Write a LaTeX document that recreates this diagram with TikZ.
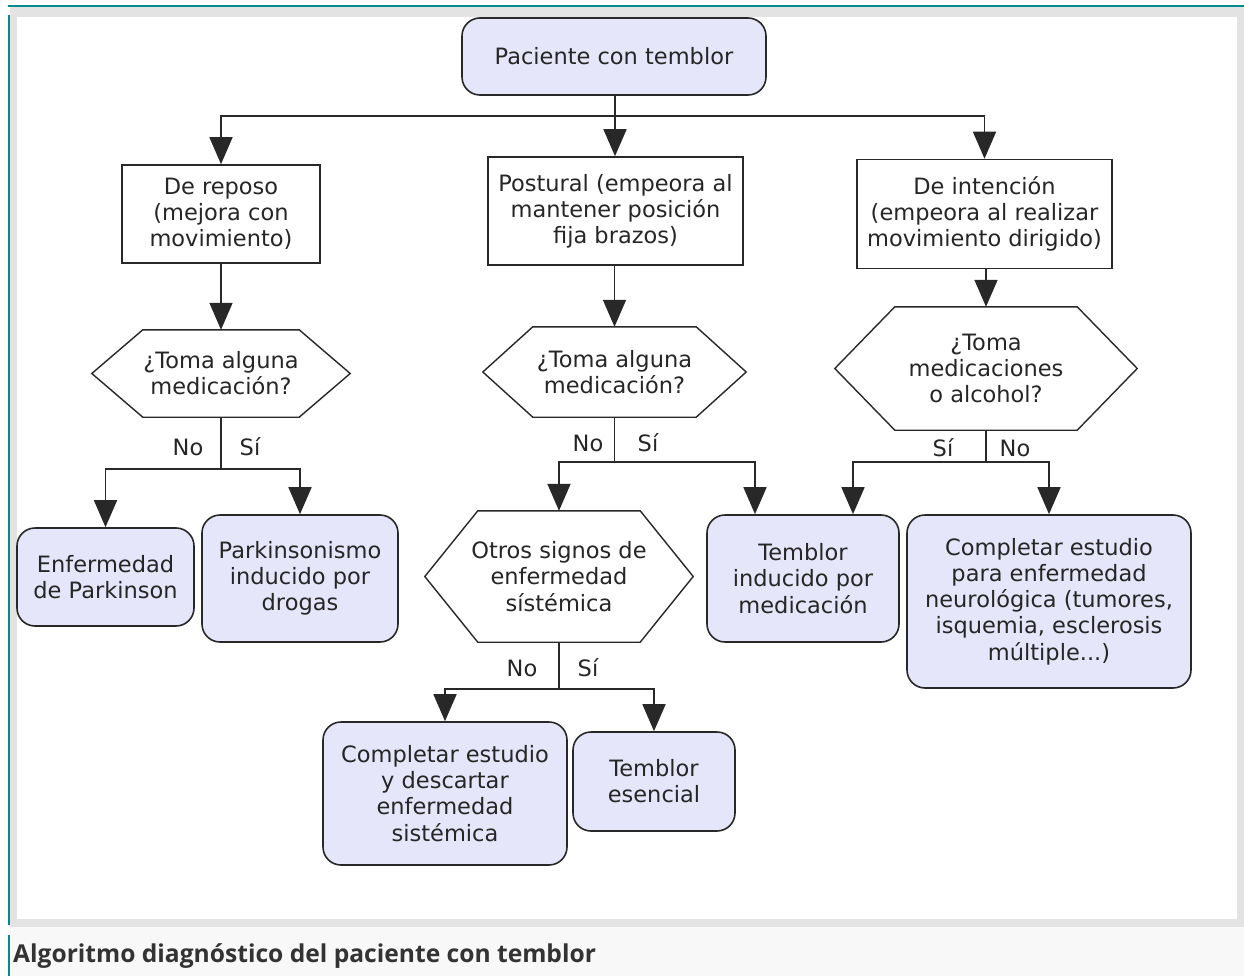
\documentclass[tikz,border=0pt]{standalone}
\usepackage{fontspec}
\setmainfont{DejaVu Sans}
\newfontfamily\capfont{Open Sans}
\usetikzlibrary{arrows.meta,calc}
\definecolor{lav}{RGB}{230,230,250}
\definecolor{linecol}{RGB}{40,40,40}
\definecolor{tealc}{RGB}{0,140,140}
\definecolor{framegray}{RGB}{227,227,227}
\definecolor{capbg}{RGB}{248,248,248}
\definecolor{captext}{RGB}{51,51,51}
\newcommand\dfont{\fontsize{22.5}{26.2}\selectfont}
\newcommand\hexpath[2]{\draw[hexline] (#1.west) -- ([xshift=#2]#1.north west) -- ([xshift=-#2]#1.north east) -- (#1.east) -- ([xshift=-#2]#1.south east) -- ([xshift=#2]#1.south west) -- cycle;}
\tikzset{
  box/.style={draw=linecol, line width=1.6pt, fill=white, align=center, inner sep=0pt, font=\dfont, text=black!85},
  rbox/.style={box, fill=lav, rounded corners=18pt},
  hexnode/.style={draw=none, align=center, inner sep=0pt, font=\dfont, text=black!85},
  hexline/.style={draw=linecol, line width=1.4pt, line join=miter},
  conn/.style={draw=linecol, line width=1.6pt},
  arrow/.style={conn, -{Triangle[length=27pt,width=23pt]}},
  lbl/.style={font=\dfont, text=black!85, inner sep=0pt},
}
\begin{document}
\begin{tikzpicture}[x=1pt,y=-1pt]
\useasboundingbox (0,0) rectangle (1244,976);
% frame
\fill[white] (0,0) rectangle (1244,976);
\fill[framegray] (10,7) rectangle (1244,927);
\fill[white] (17,17) rectangle (1237,919);
\fill[capbg] (10,927) rectangle (1244,976);
\fill[tealc] (8,5.5) rectangle (1244,7.2);
\fill[tealc] (8,15) rectangle (10,925);
\fill[tealc] (8,935) rectangle (10,976);
\node[anchor=base west, font=\capfont\bfseries\fontsize{24.6}{28}\selectfont, text=captext, inner sep=0pt] (cap) at (13,962) {Algoritmo diagnóstico del paciente con temblor};

% nodes
\node[rbox, minimum width=304pt, minimum height=77pt] (top) at (614,56.5) {Paciente con temblor};
\node[box, minimum width=198pt, minimum height=98pt] (r1) at (221,214) {De reposo\\(mejora con\\movimiento)};
\node[box, minimum width=255pt, minimum height=108pt] (r2) at (615.5,211) {Postural (empeora al\\mantener posición\\fija brazos)};
\node[box, minimum width=255pt, minimum height=109pt] (r3) at (984.5,214) {De intención\\(empeora al realizar\\movimiento dirigido)};

\node[hexnode, minimum width=258pt, minimum height=87pt] (h1) at (221,373.5) {¿Toma alguna\\medicación?};
\hexpath{h1}{51pt}
\node[hexnode, minimum width=263pt, minimum height=90pt] (h2) at (614.5,372) {¿Toma alguna\\medicación?};
\hexpath{h2}{50pt}
\node[hexnode, minimum width=302pt, minimum height=123pt] (h4) at (986,368.5) {¿Toma\\medicaciones\\o alcohol?};
\hexpath{h4}{60pt}
\node[hexnode, minimum width=268pt, minimum height=131pt] (h3) at (559,576.5) {Otros signos de\\enfermedad\\sístémica};
\hexpath{h3}{53pt}

\node[rbox, minimum width=177pt, minimum height=98pt] (ep) at (105.5,577) {Enfermedad\\de Parkinson};
\node[rbox, minimum width=196pt, minimum height=127pt] (pd) at (300,578.5) {Parkinsonismo\\inducido por\\drogas};
\node[rbox, minimum width=192pt, minimum height=127pt] (tim) at (803,578.5) {Temblor\\inducido por\\medicación};
\node[rbox, minimum width=284pt, minimum height=173pt] (cn) at (1049,601.5) {Completar estudio\\para enfermedad\\neurológica (tumores,\\isquemia, esclerosis\\múltiple...)};
\node[rbox, minimum width=244pt, minimum height=143pt] (cd) at (445,793.5) {Completar estudio\\y descartar\\enfermedad\\sistémica};
\node[rbox, minimum width=162pt, minimum height=99pt] (te) at (654,781.5) {Temblor\\esencial};

% junctions
\coordinate (j0) at (615,116);
\coordinate (j1) at (221,469);
\coordinate (j2) at (614.5,462);
\coordinate (j4) at (986,462);
\coordinate (j3) at (559,689);

% connectors
\draw[conn] (top.south -| j0) -- (j0);
\draw[arrow] (j0) -| (r1.north);
\draw[arrow] (j0) -- (j0 |- r2.north);
\draw[arrow] (j0) -| (r3.north);

\draw[arrow] (r1.south) -- (h1.north);
\draw[arrow] (r2.south -| h2.north) -- (h2.north);
\draw[arrow] (r3.south -| h4.north) -- (h4.north);

\draw[conn] (h1.south) -- (j1);
\draw[arrow] (j1) -| (ep.north);
\draw[arrow] (j1) -| (pd.north);
\node[lbl] (n1) at (188,447) {No};
\node[lbl] (s1) at (250,447) {Sí};

\draw[conn] (h2.south) -- (j2);
\draw[arrow] (j2) -| (h3.north);
\draw[arrow] (j2) -| ([xshift=-48pt]tim.north);
\node[lbl] (n2) at (588,443) {No};
\node[lbl] (s2) at (648,443) {Sí};

\draw[conn] (h4.south) -- (j4);
\draw[arrow] (j4) -| ([xshift=50pt]tim.north);
\draw[arrow] (j4) -| (cn.north);
\node[lbl] (s4) at (943,448) {Sí};
\node[lbl] (n4) at (1015,448) {No};

\draw[conn] (h3.south) -- (j3);
\draw[arrow] (j3) -| (cd.north);
\draw[arrow] (j3) -| (te.north);
\node[lbl] (n3) at (522,668) {No};
\node[lbl] (s3) at (588,668) {Sí};
\end{tikzpicture}
\end{document}
